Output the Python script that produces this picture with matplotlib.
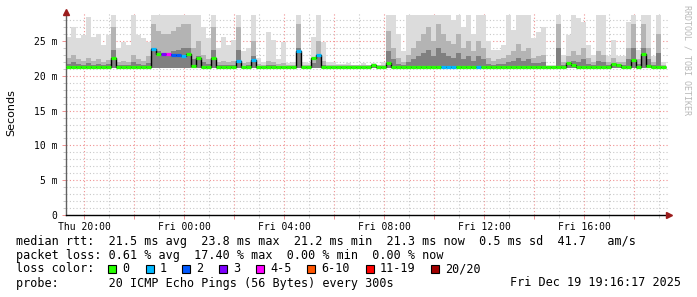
import numpy as np
import matplotlib
matplotlib.use('Agg')
import matplotlib.pyplot as plt
from matplotlib.patches import Rectangle

# 12 minute steps over the last 24 h (start Thu 19:16:17)
step_h = 0.2

# median rtt per step [ms]
median_ms = [
    21.3, 21.3, 21.3, 21.3, 21.3, 21.3, 21.3, 21.3, 21.3, 22.6,
    21.3, 21.3, 21.3, 21.3, 21.3, 21.3, 21.3, 23.8, 23.1, 23.2,
    23.1, 23.0, 23.0, 22.8, 23.1, 21.4, 22.6, 21.3, 21.2, 22.5,
    21.2, 21.3, 21.3, 21.3, 22.2, 21.3, 21.3, 22.3, 21.3, 21.3,
    21.3, 21.3, 21.3, 21.3, 21.3, 21.3, 23.6, 21.3, 21.3, 22.5,
    23.0, 21.3, 21.3, 21.3, 21.3, 21.3, 21.3, 21.3, 21.3, 21.3,
    21.3, 21.5, 21.3, 21.3, 21.8, 21.3, 21.3, 21.3, 21.3, 21.3,
    21.3, 21.3, 21.3, 21.3, 21.3, 21.2, 21.2, 21.3, 21.3, 21.3,
    21.3, 21.3, 21.2, 21.3, 21.3, 21.3, 21.3, 21.3, 21.3, 21.3,
    21.3, 21.3, 21.3, 21.3, 21.3, 21.3, 21.2, 21.3, 21.3, 21.3,
    21.8, 21.5, 21.3, 21.3, 21.3, 21.3, 21.2, 21.3, 21.3, 21.7,
    21.5, 21.3, 21.3, 22.3, 21.3, 23.2, 21.4, 21.3, 21.3, 21.3,
]

# lost pings (of 20) per step
loss = [
    0, 0, 0, 0, 0, 0, 0, 0, 0, 0,
    0, 0, 0, 0, 0, 0, 0, 1, 0, 3,
    4, 2, 2, 1, 0, 0, 0, 0, 0, 0,
    0, 0, 0, 0, 1, 0, 0, 1, 0, 0,
    0, 0, 0, 0, 0, 0, 1, 0, 0, 0,
    1, 0, 0, 0, 0, 0, 0, 0, 0, 0,
    0, 0, 0, 0, 0, 0, 0, 0, 0, 0,
    0, 0, 0, 0, 0, 1, 1, 1, 0, 0,
    0, 0, 1, 0, 0, 0, 0, 0, 0, 0,
    0, 0, 0, 0, 0, 0, 0, 0, 0, 0,
    0, 0, 0, 0, 0, 0, 0, 0, 0, 0,
    0, 0, 0, 0, 0, 0, 0, 0, 0, 0,
]

# smoke: slowest ping and the upper "dense" part per step [ms]
smoke_max = [
    25.6, 27.0, 25.4, 25.9, 28.5, 25.6, 26.0, 24.4, 25.9, 28.7,
    24.0, 24.9, 24.4, 28.7, 25.9, 25.4, 24.9, 28.7, 28.7, 28.7,
    28.7, 28.7, 28.7, 28.7, 28.7, 28.7, 28.7, 27.0, 25.4, 28.7,
    24.0, 25.6, 24.4, 25.1, 28.7, 23.5, 24.0, 28.7, 22.5, 22.0,
    26.3, 25.1, 22.4, 24.9, 21.8, 22.0, 28.7, 22.0, 21.8, 25.6,
    28.7, 24.9, 22.0, 22.0, 21.7, 21.7, 21.9, 21.6, 21.6, 21.8,
    21.6, 21.8, 21.6, 22.0, 28.7, 28.7, 26.0, 23.5, 28.7, 28.7,
    28.7, 28.7, 28.7, 28.7, 28.7, 28.7, 28.7, 28.0, 28.7, 27.0,
    28.7, 26.0, 28.7, 28.7, 25.0, 23.7, 23.7, 24.4, 28.7, 26.6,
    28.7, 28.7, 28.7, 25.4, 26.3, 27.0, 21.6, 21.6, 28.7, 23.0,
    25.9, 28.7, 28.3, 27.7, 24.4, 23.0, 28.7, 28.7, 22.8, 25.1,
    22.8, 22.8, 27.7, 28.7, 23.7, 28.7, 28.7, 22.8, 28.7, 22.0,
]
smoke_mid = [
    22.5, 23.0, 22.4, 22.2, 22.6, 22.2, 22.4, 22.0, 22.3, 27.0,
    22.0, 22.2, 22.0, 23.0, 22.4, 22.2, 22.8, 27.5, 26.5, 26.0,
    26.0, 26.5, 27.0, 27.5, 27.5, 24.0, 25.0, 23.0, 22.4, 27.0,
    22.0, 22.2, 22.0, 22.2, 27.0, 21.8, 22.0, 25.0, 21.7, 21.6,
    22.2, 22.0, 21.7, 21.9, 21.5, 21.6, 27.5, 21.6, 21.5, 22.6,
    25.0, 22.2, 21.6, 21.6, 21.5, 21.5, 21.6, 21.5, 21.5, 21.5,
    21.5, 21.6, 21.5, 21.6, 26.5, 24.0, 22.5, 22.0, 23.0, 24.0,
    25.0, 26.0, 27.0, 25.0, 27.5, 26.0, 25.0, 24.5, 26.0, 24.0,
    25.0, 23.5, 25.0, 24.0, 22.5, 22.2, 22.4, 22.5, 23.0, 23.5,
    24.5, 23.5, 24.0, 22.6, 22.8, 23.0, 21.4, 21.4, 27.5, 22.0,
    22.8, 23.5, 23.0, 24.0, 22.5, 22.0, 23.5, 23.0, 22.0, 22.5,
    22.0, 22.0, 24.0, 27.5, 22.4, 27.5, 24.0, 22.0, 26.0, 21.6,
]
smoke_floor = 21.1

loss_colors = {0: '#26ff00', 1: '#00b8ff', 2: '#0059ff', 3: '#7e00ff',
               4: '#ff00ff', 6: '#ff5500', 11: '#ff0000', 20: '#a10000'}
legend_labels = ['0', '1', '2', '3', '4-5', '6-10', '11-19', '20/20']

tick_labels = ['Thu 20:00', '', 'Fri 00:00', '', 'Fri 04:00', '', 'Fri 08:00', '',
               'Fri 12:00', '', 'Fri 16:00', '']
first_tick_h = 44 / 60 - 17 / 3600
ytick_vals = [0, 5, 10, 15, 20, 25]
ytick_labels = ['0', '5 m', '10 m', '15 m', '20 m', '25 m']

stats_rtt = 'median rtt:  21.5 ms avg  23.8 ms max  21.2 ms min  21.3 ms now  0.5 ms sd  41.7   am/s'
stats_loss = 'packet loss: 0.61 % avg  17.40 % max  0.00 % min  0.00 % now'
probe_txt = 'probe:       20 ICMP Echo Pings (56 Bytes) every 300s'
stamp_txt = 'Fri Dec 19 19:16:17 2025'


def loss_color(n):
    key = max(k for k in loss_colors if k <= n)
    return loss_colors[key]


W, H = 697, 297
mono = 'DejaVu Sans Mono'
fig = plt.figure(figsize=(W / 100, H / 100), dpi=100)
ax = fig.add_axes([66 / W, (H - 215) / H, 603 / W, 203 / H])

n = len(median_ms)
t = np.arange(n) * step_h
edges = np.arange(n + 1) * step_h
med = np.array(median_ms)
smax = np.array(smoke_max)
smid = np.array(smoke_mid)

# smoke
ax.bar(t, smax - smoke_floor, bottom=smoke_floor, width=step_h, align='edge',
       color='#dcdcdc', linewidth=0, zorder=1)
ax.bar(t, smid - smoke_floor, bottom=smoke_floor, width=step_h, align='edge',
       color='#b4b4b4', linewidth=0, zorder=1.1)
inner = smoke_floor + 0.45 * (smid - smoke_floor)
ax.bar(t, inner - smoke_floor, bottom=smoke_floor, width=step_h, align='edge',
       color='#808080', linewidth=0, zorder=1.2)

# median
ax.stairs(med, edges, baseline=None, color='black', lw=1.0, zorder=3)
ax.hlines(med, t, t + step_h, colors=[loss_color(v) for v in loss],
          lw=2.3, zorder=4)

ax.set_xlim(0, 24.12)
ax.set_ylim(0, 29.17)

major_x = first_tick_h + 2 * np.arange(len(tick_labels))
minor_x = first_tick_h + np.arange(2 * len(tick_labels))
ax.set_xticks(major_x)
ax.set_xticklabels(tick_labels)
ax.set_xticks(minor_x, minor=True)
ax.set_yticks(ytick_vals)
ax.set_yticklabels(ytick_labels)
ax.set_yticks(np.arange(0, 29, 1), minor=True)

ax.grid(which='minor', color='#c8c8c8', linestyle=(0, (1, 2)), lw=0.8, zorder=0)
ax.grid(which='major', color='#f09090', linestyle=(0, (1, 2)), lw=0.8, zorder=0)
ax.set_axisbelow(True)

ax.tick_params(which='major', length=3, width=0.7, color='#f09090', pad=2,
               labelsize=7, labelcolor='black')
ax.tick_params(which='minor', length=2, width=0.7, color='#c8c8c8')
ax.tick_params(axis='y', pad=3)
for lab in ax.get_xticklabels() + ax.get_yticklabels():
    lab.set_family(mono)

for s in ['top', 'right']:
    ax.spines[s].set_visible(False)
ax.spines['left'].set_color('#606060')
ax.spines['bottom'].set_color('black')
ax.spines['left'].set_linewidth(1.0)
ax.spines['bottom'].set_linewidth(1.0)

# axis arrows
ax.plot([0], [1.0], marker='^', ms=5, color='#9b1c1c', transform=ax.transAxes,
        clip_on=False, zorder=6)
ax.plot([1.0], [0], marker='>', ms=5, color='#9b1c1c', transform=ax.transAxes,
        clip_on=False, zorder=6)

fig.text(11 / W, 1 - 113 / H, 'Seconds', rotation=90, ha='center', va='center',
         fontsize=8, family='DejaVu Sans')
fig.text(687 / W, 1 - 60 / H, 'RRDTOOL / TOBI OETIKER', rotation=270,
         ha='center', va='center', fontsize=6, family=mono, color='#b8b8b8')

# legend block
fs = 8.5
fig.text(16 / W, 1 - 241.5 / H, stats_rtt, ha='left', va='center', fontsize=fs, family=mono)
fig.text(16 / W, 1 - 255.5 / H, stats_loss, ha='left', va='center', fontsize=fs, family=mono)
fig.text(16 / W, 1 - 269 / H, 'loss color:', ha='left', va='center', fontsize=fs, family=mono)
fig.text(16 / W, 1 - 283 / H, probe_txt, ha='left', va='center', fontsize=fs, family=mono)
fig.text(681 / W, 1 - 283 / H, stamp_txt, ha='right', va='center', fontsize=fs, family=mono)

box_x = [108, 146, 182, 219, 256, 307, 366, 431]
for bx, lab, col in zip(box_x, legend_labels, loss_colors.values()):
    fig.add_artist(Rectangle((bx / W, 1 - 273 / H), 8 / W, 8 / H,
                             transform=fig.transFigure, facecolor=col,
                             edgecolor='black', lw=0.8))
    fig.text((bx + 14) / W, 1 - 269 / H, lab, ha='left', va='center',
             fontsize=fs, family=mono)

fig.savefig('out.png', dpi=100, facecolor='white')
